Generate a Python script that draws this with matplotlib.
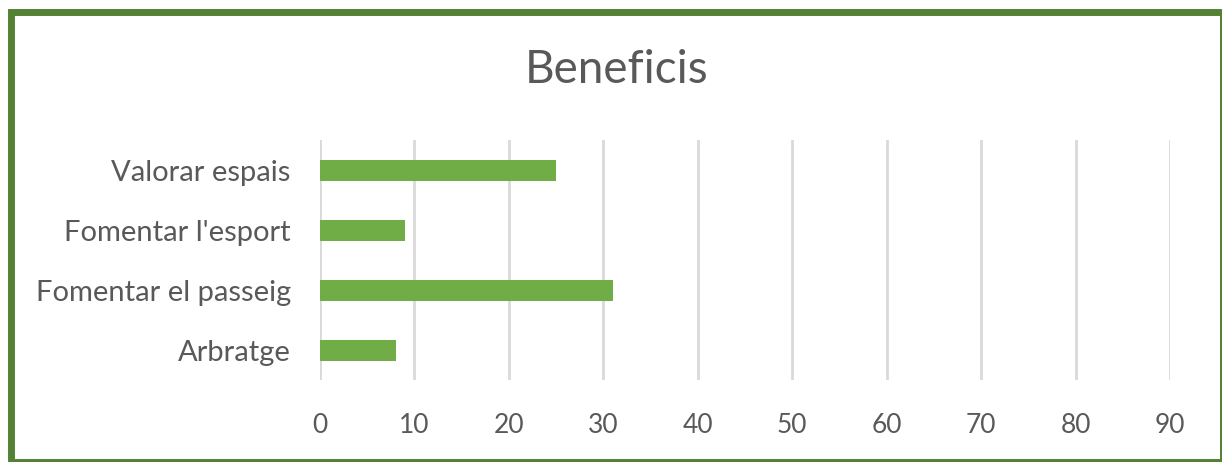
import matplotlib.pyplot as plt
from matplotlib.patches import Rectangle

categories = ["Arbratge", "Fomentar el passeig", "Fomentar l'esport", "Valorar espais"]
values = [8, 31, 9, 25]
x_ticks = [0, 10, 20, 30, 40, 50, 60, 70, 80, 90]

plt.rcParams["font.family"] = ["Lato", "DejaVu Sans"]
text_color = "#595959"

fig = plt.figure(figsize=(12.22, 4.62), dpi=100)
ax = fig.add_axes([320 / 1222, 1 - 380 / 462, 850 / 1222, 240 / 462])

ax.barh(categories, values, height=0.35, color="#70AD47", zorder=3)
ax.set_xlim(0, 90)
ax.set_ylim(-0.5, len(categories) - 0.5)
ax.set_xticks(x_ticks)
ax.grid(axis="x", color="#D9D9D9", linewidth=2, zorder=0)
for s in ax.spines.values():
    s.set_visible(False)
ax.tick_params(axis="x", length=0, labelsize=19, colors=text_color, pad=24)
ax.tick_params(axis="y", length=0, labelsize=21, colors=text_color, pad=21)

fig.text(617 / 1222, 1 - 70 / 462, "Beneficis", ha="center", va="center",
         fontsize=33, color=text_color)

# green chart border
fig.patches.append(Rectangle((11 / 1222, 0.5 / 462), 1212 / 1222, 450 / 462,
                             transform=fig.transFigure, fill=False,
                             edgecolor="#548235", linewidth=5))

fig.savefig("out.png", dpi=100)
